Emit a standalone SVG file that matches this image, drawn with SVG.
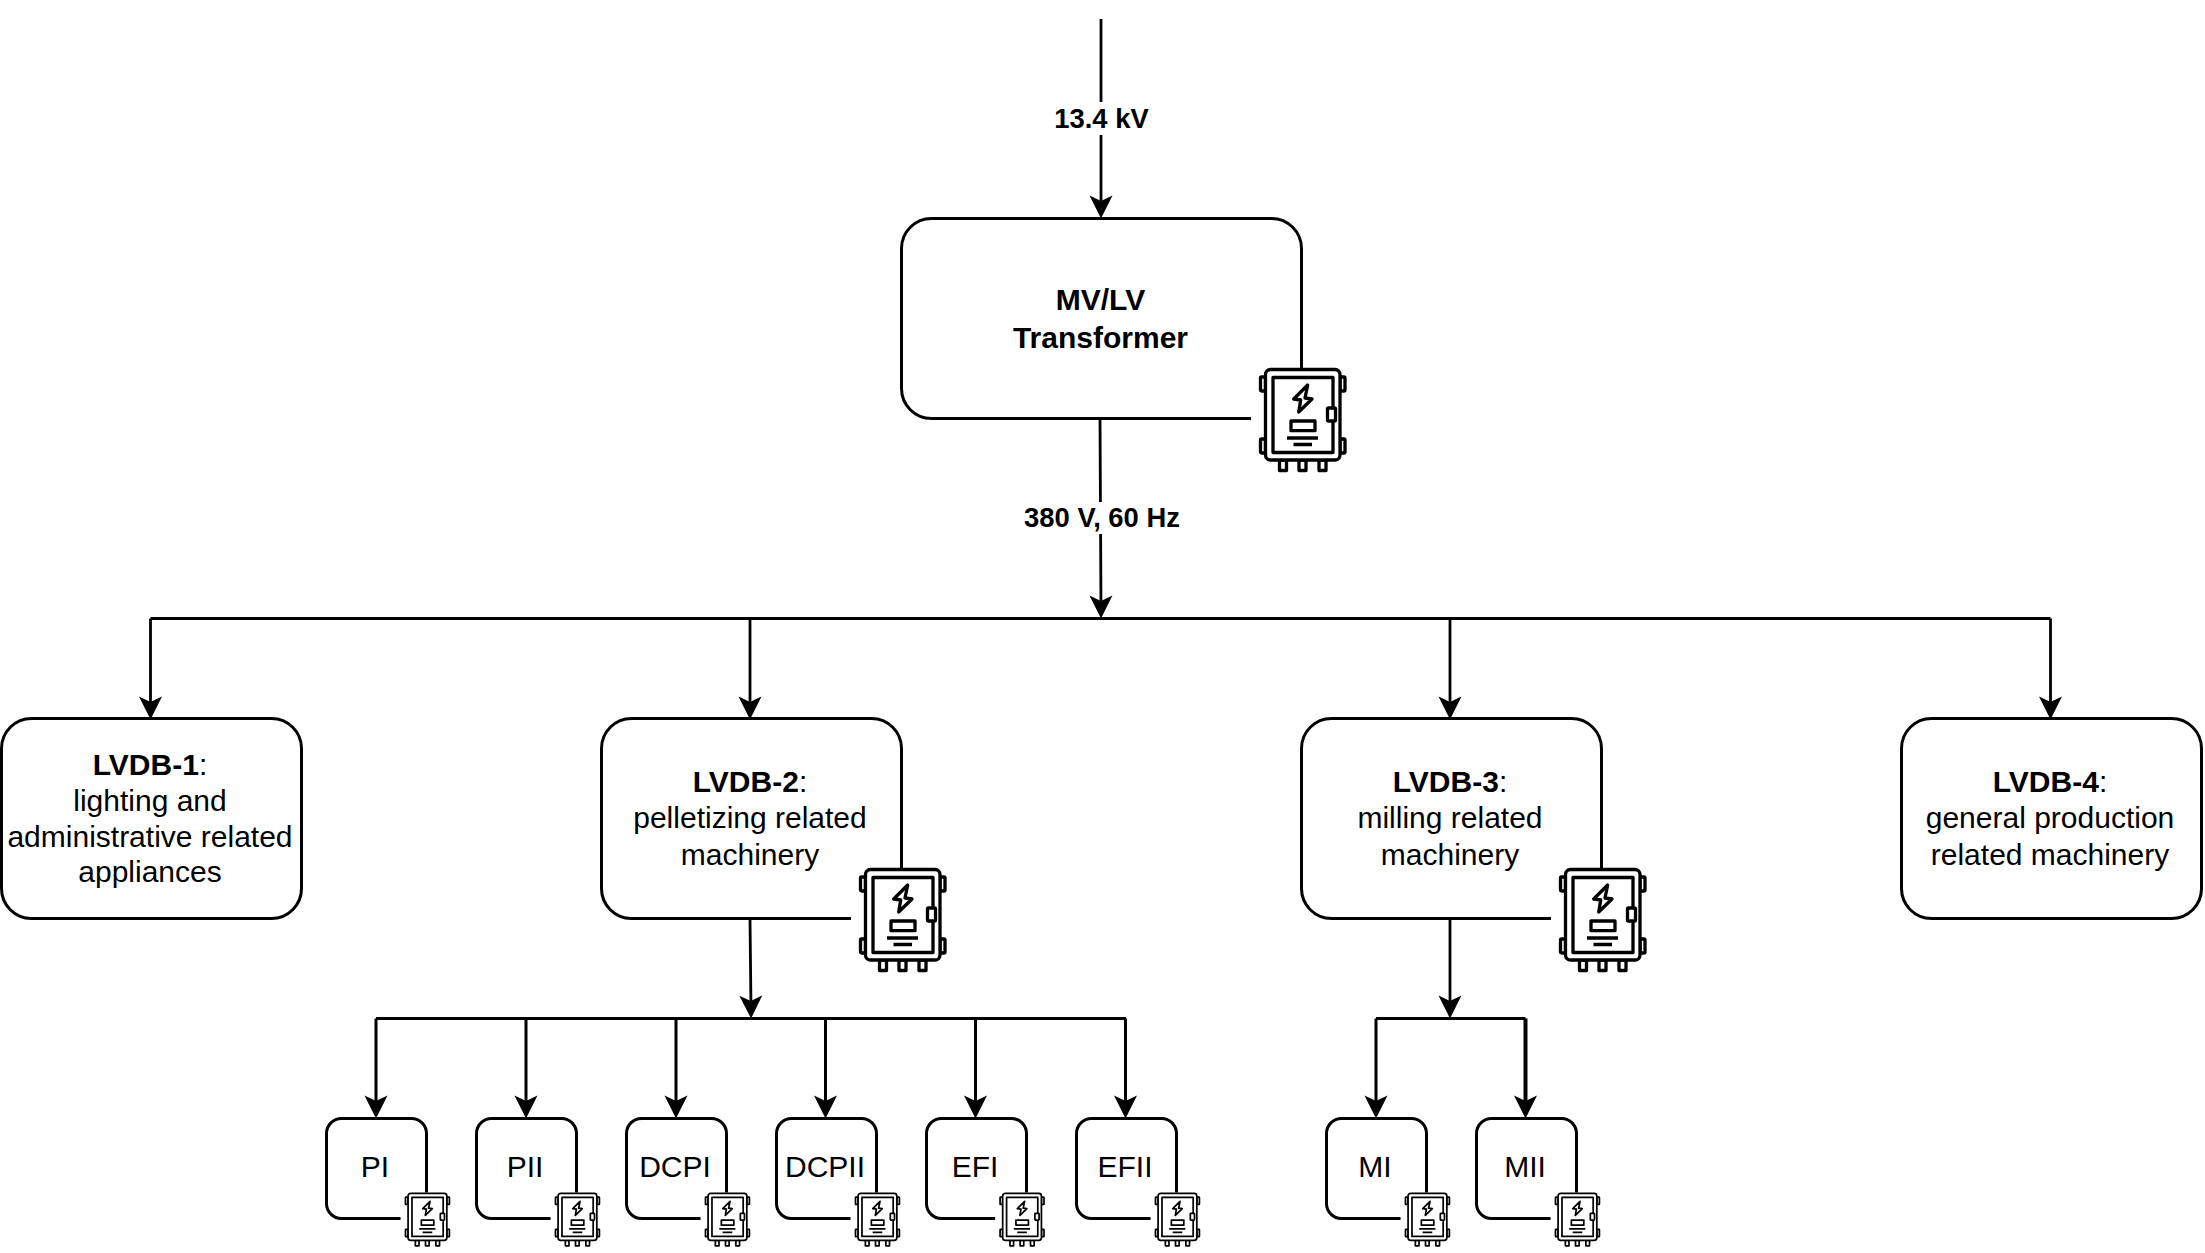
<svg xmlns="http://www.w3.org/2000/svg" xmlns:xlink="http://www.w3.org/1999/xlink" width="2205" height="1253" viewBox="0 0 2205 1253">
<style>
text{font-family:"Liberation Sans",Arial,sans-serif;text-anchor:middle;fill:#000}
.n{font-size:30px}
.b{font-weight:bold}
.t{font-size:30px;font-weight:bold}
.l{font-size:27.4px;font-weight:bold}
.box{fill:#fff;stroke:#000;stroke-width:3}
.w{fill:none;stroke:#000;stroke-width:2.8;stroke-linejoin:round}
.w2{fill:none;stroke:#000;stroke-width:3;stroke-linejoin:round}
.w3{fill:none;stroke:#000;stroke-width:4}
.arr{marker-end:url(#ah)}
.p{fill:#fff;stroke:#000;stroke-width:3.3;stroke-linejoin:round}
.lb{fill:#fff}
</style>
<defs>
<marker id="ah" markerUnits="userSpaceOnUse" markerWidth="24" markerHeight="24" refX="15" refY="12" orient="auto" viewBox="0 0 24 24"><path d="M23.500 12L0.500 0.500L6 12L0.500 23.500Z" fill="#000"/></marker>
<g id="panel">
<rect x="-8" y="0" width="100" height="104" fill="#fff"/>
<rect class="p" x="1.500" y="9" width="5" height="14" rx="1"/>
<rect class="p" x="1.500" y="71" width="5" height="14" rx="1"/>
<rect class="p" x="81" y="9" width="5" height="14" rx="1"/>
<rect class="p" x="81" y="71" width="5" height="14" rx="1"/>
<rect class="p" x="20.500" y="92" width="7" height="10.500"/>
<rect class="p" x="40" y="92" width="7" height="10.500"/>
<rect class="p" x="60" y="92" width="7" height="10.500"/>
<rect class="p" x="6.500" y="1.500" width="74.500" height="90.500" rx="5"/>
<rect class="p" x="14" y="9.500" width="60" height="75"/>
<path class="p" d="M48.700 17L34.700 31L41.700 32L39.700 44L53 31L46 30Z"/>
<rect class="p" x="32" y="53" width="24" height="9.700"/>
<path class="p" d="M28 70H59M34.500 76.500H53"/>
<rect class="p" x="68.500" y="40" width="8" height="13" rx="1"/>
</g>
</defs>
<rect width="2205" height="1253" fill="#fff"/>
<g id="connectors">
<path class="w arr" d="M1101 19V210"/>
<path class="w arr" d="M1100 419L1101 610"/>
<path class="w" d="M150.500 618.500H2050.500"/>
<path class="w arr" d="M150.500 618.500V711"/>
<path class="w arr" d="M750 618.500V711"/>
<path class="w arr" d="M1450 618.500V711"/>
<path class="w arr" d="M2050.500 618.500V711"/>
<path class="w arr" d="M750 919L751 1010"/>
<path class="w arr" d="M1450 919V1010"/>
<path class="w" d="M376 1018.500H1126"/>
<path class="w2 arr" d="M376 1018.500V1110"/>
<path class="w2 arr" d="M526 1018.500V1110"/>
<path class="w2 arr" d="M676 1018.500V1110"/>
<path class="w2 arr" d="M825.500 1018.500V1110"/>
<path class="w2 arr" d="M975.500 1018.500V1110"/>
<path class="w2 arr" d="M1125.500 1018.500V1110"/>
<path class="w" d="M1376 1018.500H1525.500"/>
<path class="w2 arr" d="M1376 1018.500V1110"/>
<path class="w3 arr" d="M1525.500 1018.500V1110"/>
<rect class="lb" x="1050" y="102" width="102" height="33"/>
<text class="l" x="1101.500" y="128">13.4 kV</text>
<rect class="lb" x="1018" y="502" width="166" height="32"/>
<text class="l" x="1102" y="527">380 V, 60 Hz</text>
</g>
<g id="transformer">
<rect class="box" x="901.500" y="218.500" width="400" height="200" rx="30"/>
<text class="t" x="1100.500" y="309.500">MV/LV</text>
<text class="t" x="1100.500" y="348">Transformer</text>
<use xlink:href="#panel" transform="translate(1259,368)"/>
</g>
<g id="lvdb1">
<rect class="box" x="1.500" y="718.500" width="300" height="200" rx="30"/>
<text class="n" x="150" y="775"><tspan class="b">LVDB-1</tspan>:</text>
<text class="n" x="150" y="810.500">lighting and</text>
<text class="n" x="150" y="847">administrative related</text>
<text class="n" x="150" y="882">appliances</text>
</g>
<g id="lvdb2">
<rect class="box" x="601.500" y="718.500" width="300" height="200" rx="30"/>
<text class="n" x="750" y="792"><tspan class="b">LVDB-2</tspan>:</text>
<text class="n" x="750" y="828">pelletizing related</text>
<text class="n" x="750" y="864.500">machinery</text>
<use xlink:href="#panel" transform="translate(859,868)"/>
</g>
<g id="lvdb3">
<rect class="box" x="1301.500" y="718.500" width="300" height="200" rx="30"/>
<text class="n" x="1450" y="792"><tspan class="b">LVDB-3</tspan>:</text>
<text class="n" x="1450" y="828">milling related</text>
<text class="n" x="1450" y="864.500">machinery</text>
<use xlink:href="#panel" transform="translate(1559,868)"/>
</g>
<g id="lvdb4">
<rect class="box" x="1901.500" y="718.500" width="300" height="200" rx="30"/>
<text class="n" x="2050" y="792"><tspan class="b">LVDB-4</tspan>:</text>
<text class="n" x="2050" y="828">general production</text>
<text class="n" x="2050" y="864.500">related machinery</text>
</g>
<g id="pi"><rect class="box" x="326.500" y="1118.500" width="100" height="100" rx="15"/><text class="n" x="375" y="1177">PI</text><use xlink:href="#panel" transform="translate(404.700,1192.500) scale(.52)"/></g>
<g id="pii"><rect class="box" x="476.500" y="1118.500" width="100" height="100" rx="15"/><text class="n" x="525" y="1177">PII</text><use xlink:href="#panel" transform="translate(554.700,1192.500) scale(.52)"/></g>
<g id="dcpi"><rect class="box" x="626.500" y="1118.500" width="100" height="100" rx="15"/><text class="n" x="675" y="1177">DCPI</text><use xlink:href="#panel" transform="translate(704.700,1192.500) scale(.52)"/></g>
<g id="dcpii"><rect class="box" x="776.500" y="1118.500" width="100" height="100" rx="15"/><text class="n" x="825" y="1177">DCPII</text><use xlink:href="#panel" transform="translate(854.700,1192.500) scale(.52)"/></g>
<g id="efi"><rect class="box" x="926.500" y="1118.500" width="100" height="100" rx="15"/><text class="n" x="975" y="1177">EFI</text><use xlink:href="#panel" transform="translate(999.300,1192.500) scale(.52)"/></g>
<g id="efii"><rect class="box" x="1076.500" y="1118.500" width="100" height="100" rx="15"/><text class="n" x="1125" y="1177">EFII</text><use xlink:href="#panel" transform="translate(1154.700,1192.500) scale(.52)"/></g>
<g id="mi"><rect class="box" x="1326.500" y="1118.500" width="100" height="100" rx="15"/><text class="n" x="1375" y="1177">MI</text><use xlink:href="#panel" transform="translate(1404.700,1192.500) scale(.52)"/></g>
<g id="mii"><rect class="box" x="1476.500" y="1118.500" width="100" height="100" rx="15"/><text class="n" x="1525" y="1177">MII</text><use xlink:href="#panel" transform="translate(1554.700,1192.500) scale(.52)"/></g>
</svg>
